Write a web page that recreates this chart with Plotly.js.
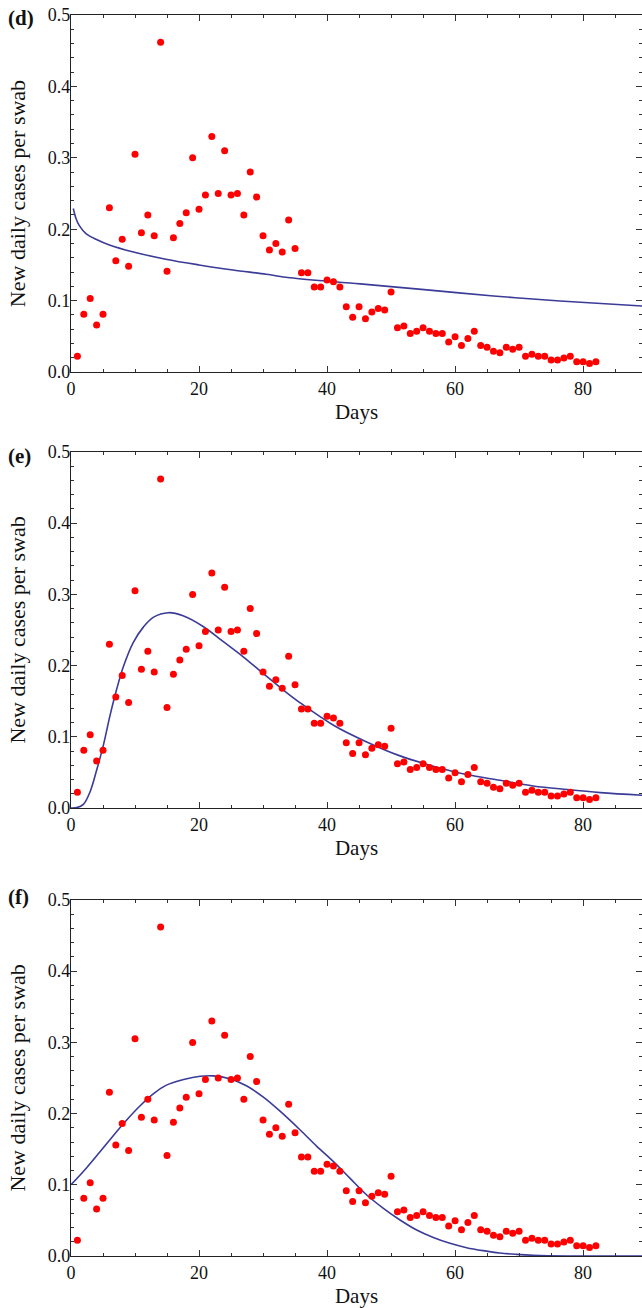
<!DOCTYPE html>
<html>
<head>
<meta charset="utf-8">
<script src="https://cdn.plot.ly/plotly-3.0.1.min.js"></script>
<style>html,body{margin:0;padding:0;background:#fff;}#chart{width:642px;height:1308px;}</style>
</head>
<body>
<div id="chart"></div>
<script>
// Observed data (days 1..82)
const days = [1,2,3,4,5,6,7,8,9,10,11,12,13,14,15,16,17,18,19,20,21,22,23,24,25,26,27,28,29,30,31,32,33,34,35,36,37,38,39,40,41,42,43,44,45,46,47,48,49,50,51,52,53,54,55,56,57,58,59,60,61,62,63,64,65,66,67,68,69,70,71,72,73,74,75,76,77,78,79,80,81,82];
const cases = [0.022,0.081,0.103,0.066,0.081,0.230,0.156,0.186,0.148,0.305,
  0.195,0.220,0.191,0.462,0.141,0.188,0.208,0.223,0.300,0.228,
  0.248,0.330,0.250,0.310,0.248,0.250,0.220,0.280,0.245,0.191,
  0.171,0.180,0.168,0.213,0.173,0.139,0.139,0.119,0.119,0.129,
  0.1265,0.119,0.0915,0.0766,0.0915,0.0747,0.084,0.089,0.0868,0.112,
  0.062,0.0645,0.054,0.057,0.062,0.057,0.054,0.054,0.042,0.0495,
  0.037,0.047,0.057,0.037,0.0346,0.029,0.027,0.0346,0.032,0.0346,
  0.022,0.025,0.022,0.022,0.017,0.017,0.0196,0.022,0.0145,0.0145,
  0.012,0.0145];

// Fitted curves
const curveDx = [0.36,0.78,1.3,2.34,3.9,6.0,9.6,14.8,20.0,25.3,30.5,34.2,45.2,55.6,66.0,76.4,89.2];
const curveDy = [0.229,0.215,0.205,0.194,0.186,0.178,0.1685,0.158,0.150,0.143,0.137,0.132,0.1234,0.115,0.1065,0.0995,0.0925];

const curveEx = [0,0.9,1.93,2.97,4.0,5.05,6.1,7.14,8.2,9.7,11.3,12.9,15.2,17.5,20.7,23.8,26.9,30.0,33.2,35.8,41.0,46.2,51.4,56.6,61.8,67.0,72.2,77.5,82.7,89.2];
const curveEy = [0,0.0005,0.005,0.0225,0.053,0.088,0.130,0.167,0.199,0.232,0.254,0.268,0.2743,0.2700,0.2546,0.2335,0.2124,0.189,0.1655,0.1477,0.1163,0.0928,0.0732,0.0587,0.047,0.039,0.031,0.0259,0.0216,0.0179];

const curveFx = [0,2.45,4.5,6.6,8.7,10.8,12.9,14.9,17.6,20.2,22.2,24.8,27.4,30.05,32.7,35.8,38.4,41.0,43.6,46.2,48.8,51.4,54.0,56.6,59.2,61.8,64.4,67.0,69.6,72.2,77.5,89.2];
const curveFy = [0.100,0.124,0.146,0.169,0.191,0.211,0.228,0.240,0.248,0.2525,0.253,0.249,0.239,0.223,0.203,0.177,0.154,0.1325,0.109,0.0857,0.067,0.0506,0.0365,0.026,0.0178,0.0117,0.0075,0.0042,0.0023,0.001,0.0,0.0];

const panelLabels = ['(d)','(e)','(f)'];
const xTickVals = [0,20,40,60,80];
const yTickVals = [0,0.1,0.2,0.3,0.4,0.5];

const FONT = 'Liberation Serif, Times New Roman, serif';
const lineColor = '#3b3b98';
const curves = [[curveDx,curveDy],[curveEx,curveEy],[curveFx,curveFy]];
const suffix = ['','2','3'];
const domains = [[0.7123,1.0],[0.361,0.6479],[0,0.2869]];
const labelShift = [-3,-4,3];

const traces = [];
const layout = {
  width: 642, height: 1308,
  margin: {l:71, r:0, t:15, b:52},
  showlegend: false,
  paper_bgcolor: '#fff', plot_bgcolor: '#fff',
  font: {family: FONT, size: 18, color: '#111'},
  annotations: []
};

for (let i = 0; i < 3; i++) {
  const s = suffix[i];
  traces.push({
    x: curves[i][0], y: curves[i][1], type: 'scatter', mode: 'lines',
    line: {color: lineColor, width: 1.6, shape: 'spline', smoothing: 1},
    xaxis: 'x' + s, yaxis: 'y' + s, hoverinfo: 'skip'
  });
  traces.push({
    x: days, y: cases, type: 'scatter', mode: 'markers',
    marker: {color: '#ff0000', size: 7},
    xaxis: 'x' + s, yaxis: 'y' + s, cliponaxis: false
  });
  const common = {
    showgrid: false, zeroline: false, showline: true, linecolor: '#222', linewidth: 1.2,
    ticks: 'inside', mirror: 'allticks', tickcolor: '#333', tickwidth: 1,
    tickfont: {family: FONT, size: 18, color: '#111'}
  };
  layout['xaxis' + s] = Object.assign({}, common, {
    domain: [0, 1], anchor: 'y' + s, range: [0, 89.2],
    tickmode: 'array', tickvals: xTickVals, ticklen: 6,
    minor: {dtick: 5, tick0: 0, ticklen: 3, ticks: 'inside', tickcolor: '#333'},
    title: {text: 'Days', font: {family: FONT, size: 21, color: '#111'}, standoff: 6}
  });
  layout['yaxis' + s] = Object.assign({}, common, {
    domain: domains[i], anchor: 'x' + s, range: [0, 0.5],
    tickmode: 'array', tickvals: yTickVals, tickformat: '.1f', ticklen: 6,
    ticklabelstandoff: -4,
    minor: {dtick: 0.02, tick0: 0, ticklen: 3, ticks: 'inside', tickcolor: '#333'},
    title: {text: 'New daily cases per swab', font: {family: FONT, size: 22, color: '#111'}, standoff: 16}
  });
  layout.annotations.push({
    text: '<b>' + panelLabels[i] + '</b>', xref: 'paper', yref: 'paper',
    x: -0.1138, y: domains[i][1], xanchor: 'left', yanchor: 'middle', yshift: labelShift[i],
    showarrow: false, font: {family: FONT, size: 21, color: '#111'}
  });
}

Plotly.newPlot('chart', traces, layout, {displayModeBar: false, staticPlot: true});
</script>
</body>
</html>
